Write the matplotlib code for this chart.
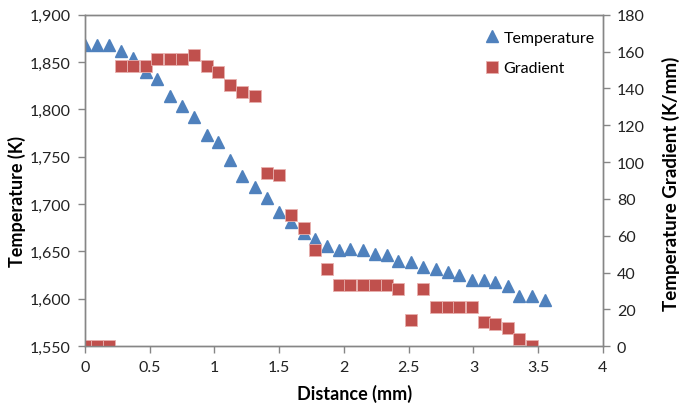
import matplotlib.pyplot as plt
from matplotlib.ticker import FuncFormatter

# Distance along the sample (mm)
distance = [0.00, 0.09, 0.19, 0.28, 0.37, 0.47, 0.56, 0.66, 0.75, 0.84,
            0.94, 1.03, 1.12, 1.21, 1.31, 1.41, 1.50, 1.59, 1.69, 1.78,
            1.87, 1.96, 2.05, 2.15, 2.24, 2.33, 2.42, 2.52, 2.61, 2.71,
            2.80, 2.89, 2.99, 3.08, 3.17, 3.27, 3.35, 3.45, 3.55]

# Temperature (K)
temperature = [1868, 1868, 1868, 1862, 1854, 1840, 1832, 1814, 1804, 1792,
               1773, 1766, 1747, 1730, 1718, 1707, 1692, 1681, 1670, 1663,
               1656, 1652, 1653, 1652, 1647, 1646, 1640, 1639, 1634, 1632,
               1628, 1625, 1620, 1620, 1618, 1614, 1603, 1603, 1599]

# Temperature gradient (K/mm), one fewer point than temperature
gradient = [0, 0, 0, 152, 152, 152, 156, 156, 156, 158,
            152, 149, 142, 138, 136, 94, 93, 71, 64, 52,
            42, 33, 33, 33, 33, 33, 31, 14, 31, 21,
            21, 21, 21, 13, 12, 10, 4, 0]

blue = '#4F81BD'
red = '#C0504D'
grey = '#868686'

plt.rcParams['font.family'] = ['Lato', 'DejaVu Sans']

fig = plt.figure(figsize=(6.79, 4.06), dpi=100)
ax = fig.add_axes([0.125, 0.145, 0.763, 0.816])
ax2 = ax.twinx()

ax.plot(distance, temperature, linestyle='none', marker='^', markersize=9,
        color=blue, markeredgecolor=blue, label='Temperature')
ax2.plot(distance[:len(gradient)], gradient, linestyle='none', marker='s',
         markersize=8, color=red, markeredgecolor='#E8B0AE', markeredgewidth=0.6,
         label='Gradient')

ax.set_xlim(0, 4)
ax.set_ylim(1550, 1900)
ax2.set_ylim(0, 180)
ax.set_xticks([0, 0.5, 1, 1.5, 2, 2.5, 3, 3.5, 4])
ax.set_xticklabels(['0', '0.5', '1', '1.5', '2', '2.5', '3', '3.5', '4'])
ax.set_yticks(range(1550, 1901, 50))
ax.yaxis.set_major_formatter(FuncFormatter(lambda v, p: f'{int(v):,}'))
ax2.set_yticks(range(0, 181, 20))

for a in (ax, ax2):
    for s in a.spines.values():
        s.set_color(grey)
        s.set_linewidth(1.0)
    a.tick_params(colors=grey, labelcolor='#222222', labelsize=11.5,
                  length=5, width=1.0, direction='out', pad=5)

ax.set_xlabel('Distance (mm)', fontsize=13, fontweight='bold')
ax.set_ylabel('Temperature (K)', fontsize=13, fontweight='bold')
ax2.set_ylabel('Temperature Gradient (K/mm)', fontsize=13.5, fontweight='bold')
ax.xaxis.set_label_coords(0.521, -0.113)
ax.yaxis.set_label_coords(-0.114, 0.441)
ax2.yaxis.set_label_coords(1.114, 0.492)

h1, l1 = ax.get_legend_handles_labels()
h2, l2 = ax2.get_legend_handles_labels()
ax.legend(h1 + h2, l1 + l2, loc='upper right', frameon=False, fontsize=11.5,
          handlelength=0.6, handletextpad=0.4, labelspacing=1.0,
          bbox_to_anchor=(1.012, 0.995))

fig.savefig('out.png', dpi=100)
